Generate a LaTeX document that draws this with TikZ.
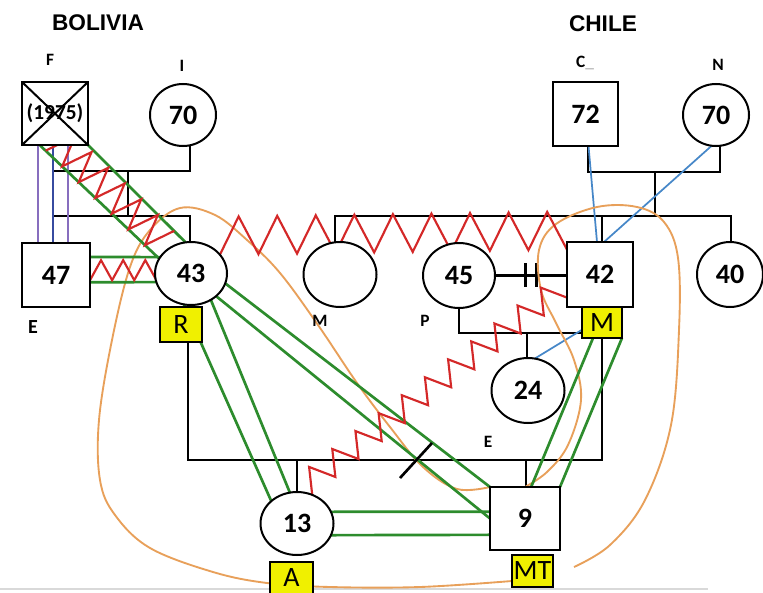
\documentclass[tikz,border=0pt]{standalone}
\usepackage{fontspec}
\setmainfont{Carlito}
\newfontfamily\headfont{Liberation Sans}
\usetikzlibrary{calc,shapes.geometric}
\pgfdeclarelayer{bg}
\pgfsetlayers{bg,main}

\definecolor{lnGreen}{RGB}{45,140,45}
\definecolor{lnRed}{RGB}{212,40,40}
\definecolor{lnOrange}{RGB}{232,160,90}
\definecolor{lnBlue}{RGB}{70,135,200}
\definecolor{lnPurple}{RGB}{135,110,190}
\definecolor{lnNavy}{RGB}{55,75,160}
\definecolor{tagYellow}{RGB}{240,240,0}

% zigzag from #1 to #2: #3 half-waves, odd corners lifted by #4 to the left of travel
\newcommand\zigline[4]{(#1) \foreach \k in {1,...,#3}{ -- ($(#1)!\k/#3!(#2)!{isodd(\k)*(#4)}!-90:(#1)$) }}

\begin{document}
\begin{tikzpicture}[x=0.75pt,y=-0.75pt,
  sz/.style 2 args={minimum width={#1*0.75pt},minimum height={#2*0.75pt}},
  male/.style={rectangle,draw,line width=1.5pt,fill=white,inner sep=0pt,outer sep=0pt,
    font=\fontsize{21}{21}\selectfont\bfseries},
  female/.style={ellipse,draw,line width=1.5pt,fill=white,inner sep=0pt,outer sep=0pt,
    font=\fontsize{21}{21}\selectfont\bfseries},
  tag/.style={rectangle,draw,line width=1.8pt,fill=tagYellow,inner sep=0pt,outer sep=0pt,
    font=\fontsize{21}{21}\selectfont},
  lbl/.style={inner sep=0pt,font=\fontsize{13}{13}\selectfont\bfseries},
  head/.style={inner sep=0pt,font=\headfont\fontsize{17}{17}\selectfont\bfseries},
  fam/.style={line width=2pt,black},
  grn/.style={line width=2pt,lnGreen},
  rd/.style={line width=1.6pt,lnRed,line join=miter},
  org/.style={line width=1.4pt,lnOrange},
  blu/.style={line width=1.3pt,lnBlue},
  prp/.style={line width=1.4pt,lnPurple},
]
\useasboundingbox (0,0) rectangle (763,592);
\begin{pgfonlayer}{bg}
  \fill[white] (0,0) rectangle (763,592);
\end{pgfonlayer}

% headings and name labels
\node[head] (hBo) at (98,23) {BOLIVIA};
\node[head] (hCh) at (603,24) {CHILE};
\node[lbl] (lF) at (50,60) {F};
\node[lbl] (lI) at (182,66) {I};
\node[lbl] (lC) at (585,63) {C{\color{gray!50}\_}};
\node[lbl] (lN) at (718,65) {N};
\node[lbl,font=\fontsize{15}{15}\selectfont\bfseries] (lE1) at (33,327) {E};
\node[lbl] (lM) at (320,321) {M};
\node[lbl] (lP) at (425,321) {P};
\node[lbl] (lE2) at (488,442) {E};

% persons
\node[male,sz={66}{63},font=\fontsize{16}{16}\selectfont\bfseries] (F) at (55,113.5) {(1975)};
\node[female,sz={66}{62}] (I) at (183,115) {70};
\node[male,sz={65}{64}] (C) at (585.5,114) {72};
\node[female,sz={66}{62}] (N) at (716,115) {70};
\node[male,sz={68}{64}] (b47) at (56,275) {47};
\node[female,sz={72}{63}] (n43) at (191,273.5) {43};
\node[female,sz={73}{65}] (nM) at (340,274.5) {};
\node[female,sz={72}{65}] (n45) at (459,275.5) {45};
\node[male,sz={66}{65}] (b42) at (600,274.5) {42};
\node[female,sz={66}{65}] (n40) at (730,274.5) {40};
\node[female,sz={73}{65}] (n24) at (528,390.5) {24};
\node[female,sz={73}{63}] (n13) at (297,523.5) {13};
\node[male,sz={70}{63}] (b9) at (525,518.5) {9};

% role tags
\node[tag,sz={42}{35}] (tR) at (181,324.5) {R};
\node[tag,sz={40}{31}] (tM) at (602,322.5) {M};
\node[tag,sz={43}{32}] (tA) at (291.5,578) {A};
\node[tag,sz={41}{32}] (tMT) at (532.5,571) {MT};

% deceased mark
\draw[line width=1.5pt] (F.north west) -- (F.south east) (F.north east) -- (F.south west);

\begin{pgfonlayer}{bg}
  % page edge
  \draw[line width=2.2pt,gray!30] (0,589) -- (708,589);

  % family of F and I
  \coordinate (fiL) at (53,171);
  \coordinate (fiR) at (190,171);
  \coordinate (fiKid) at (128,171);
  \coordinate (sibL) at (53,216);
  \coordinate (sibR) at (190,216);
  \draw[fam] (F.south -| fiL) -- (fiL) -- (fiR) -- (fiR |- I.south);
  \draw[fam] (fiKid) -- (fiKid |- sibL);
  \draw[fam] (b47.north -| sibL) -- (sibL) -- (sibR) -- (sibR |- n43.north);

  % family of C and N
  \coordinate (cnL) at (588,172);
  \coordinate (cnR) at (720,172);
  \coordinate (cnKid) at (655,172);
  \coordinate (sib2L) at (335,216);
  \coordinate (sib2R) at (731,216);
  \coordinate (sib42) at (602,216);
  \draw[fam] (C.south -| cnL) -- (cnL) -- (cnR) -- (cnR |- N.south);
  \draw[fam] (cnKid) -- (cnKid |- sib2L);
  \draw[fam] (sib2L |- nM.north) -- (sib2L) -- (sib2R) -- (sib2R |- n40.north);
  \draw[fam] (sib42) -- (sib42 |- b42.north);

  % separated couple 45 - 42 and their child
  \draw[fam] (n45.east) -- (n45.east -| b42.west);
  \draw[fam] ($(n45.east)!0.42!(b42.west)$) ++(0,-12) -- ++(0,24);
  \draw[fam] ($(n45.east)!0.58!(b42.west)$) ++(0,-12) -- ++(0,24);
  \coordinate (k24) at (527,333);
  \draw[fam] (n45.south) -- (n45.south |- k24) -- (k24 -| tM.west);
  \draw[fam] (k24) -- (k24 |- n24.north);

  % children of 43 and 42
  \coordinate (jL) at (188,460);
  \coordinate (jR) at (602,460);
  \coordinate (j13) at (297,460);
  \coordinate (j9) at (526,460);
  \draw[fam] (tR.south -| jL) -- (jL) -- (jR) -- (jR |- tM.south);
  \draw[fam] (j13) -- (j13 |- n13.north);
  \draw[fam] (j9) -- (j9 |- b9.north);

  % F to 47
  \draw[prp] ($(F.south)+(-17,0)$) -- ($(b47.north)+(-18,0)$);
  \draw[prp,lnNavy] ($(F.south)+(-2,0)$) -- ($(b47.north)+(-3,0)$);
  \draw[prp] ($(F.south)+(13,0)$) -- ($(b47.north)+(12,0)$);

  % blue ties
  \draw[blu] ($(C.south)+(3,0)$) -- ($(b42.north)+(-3,0)$);
  \draw[blu] (N.262) -- ($(b42.north)+(4,0)$);
  \draw[blu] (n24.78) -- (tM.200);

  % orange loops
  \coordinate (oEnd) at (574,567);
  \draw[org] plot[smooth,tension=0.6] coordinates {(b9.north west) (457,489) (423,467)
    (390,427) (357,383) (318,325) (280,273) (247,240) (215,215) (180,208) (150,230)
    (130,267) (112,340) (99,420) (100,480) (115,515) (150,548) (213,572) (267,583)
    (330,587) (420,587) (tMT.206)};
  \draw[org] plot[smooth,tension=0.6] coordinates {(b9.north) (547,472) (568,445)
    (581,400) (574,360) (556,323) (541,290) (539,250) (556,224) (597,207) (637,207)
    (664,222) (678,258) (679,330) (671,425) (645,500) (610,545) (oEnd)};

  % green bonds
  \draw[grn] (F.244) -- (n43.155);
  \draw[grn] (F.south east) -- (n43.100);
  \draw[grn] (b47.28) -- (n43.152);
  \draw[grn] (b47.348) -- (n43.194);
  \draw[grn] (n43.257) -- (n13.139);
  \draw[grn] (n43.307) -- (n13.103);
  \draw[grn] (n43.344) -- (b9.north west);
  \draw[grn] (n43.318) -- (b9.west);
  \draw[grn] (n13.19) -- (b9.169);
  \draw[grn] (n13.341) -- (b9.205);
  \draw[grn] (tM.240) -- (b9.79);
  \draw[grn] (tM.south east) -- (b9.north east);

  % red conflict lines
  \coordinate (zfA) at ($(F.244)!0.05!(n43.155)$);
  \coordinate (zfB) at ($(F.244)!0.95!(n43.155)$);
  \draw[rd] \zigline{zfA}{zfB}{13}{23pt};
  \coordinate (zeA) at ($(b47.348)+(0,-2)$);
  \coordinate (zeB) at ($(n43.194)+(0,-2)$);
  \draw[rd] \zigline{zeA}{zeB}{6}{15pt};
  \draw[rd] \zigline{n43.33}{b42.143}{18}{28.5pt};
  \draw[rd] \zigline{n13.62}{b42.215}{22}{18pt};

  % cut-off mark
  \coordinate (cutA) at (400,478);
  \coordinate (cutB) at (432,443);
  \draw[fam] (cutA) -- (cutB);
\end{pgfonlayer}
\end{tikzpicture}
\end{document}
